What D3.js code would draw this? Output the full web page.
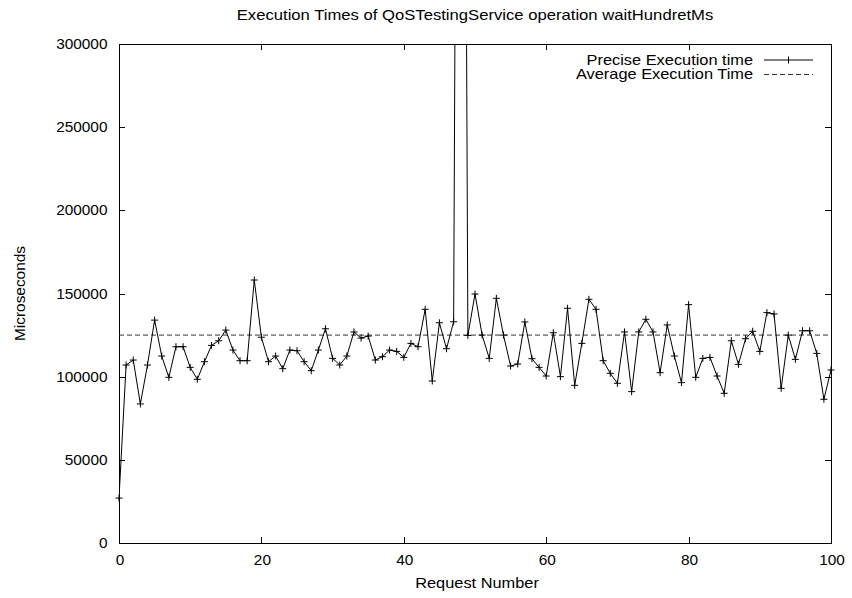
<!DOCTYPE html>
<html>
<head>
<meta charset="utf-8">
<script src="https://cdn.jsdelivr.net/npm/d3@7"></script>
<style>
  html, body { margin: 0; padding: 0; background: #fff; }
  svg { display: block; }
  text { font-family: "Liberation Sans", Arial, Helvetica, sans-serif; fill: #000; }
</style>
</head>
<body>
<svg id="chart" width="852" height="598"></svg>
<script>
// ---- data ----
const title = "Execution Times of QoSTestingService operation waitHundretMs";
const xLabel = "Request Number";
const yLabel = "Microseconds";
const seriesNames = ["Precise Execution time", "Average Execution Time"];
const requestNumbers = d3.range(0, 101);
const executionTimes = [
  27000, 107000, 110000, 83600, 107000, 134000, 112400, 99600, 118000, 118000,
  105600, 98400, 109000, 118800, 121600, 128000, 116000, 109600, 109600, 158100,
  123700, 109000, 112400, 104800, 116000, 115600, 109000, 103600, 116000, 128800,
  111000, 107000, 112400, 126900, 123200, 124400, 110000, 112000, 116000, 115200,
  111600, 120000, 118000, 140500, 97400, 132400, 116800, 133000, 1080000, 124800,
  149700, 125000, 111000, 147100, 125000, 106400, 107600, 132900, 110800, 105600,
  100400, 126400, 100000, 141100, 94800, 120000, 146500, 140500, 109600, 102000,
  96000, 126900, 91000, 126900, 134500, 126900, 102400, 131100, 112400, 96400,
  143300, 99600, 111000, 111600, 100400, 90000, 121600, 107400, 122800, 127300,
  115200, 138500, 137700, 93000, 125000, 110400, 127600, 127600, 114000, 86400,
  104000
];
const averageTime = 125000;
const xTicks = [0, 20, 40, 60, 80, 100];
const yTicks = [0, 50000, 100000, 150000, 200000, 250000, 300000];

// ---- layout ----
const M = { left: 119, right: 831, top: 44, bottom: 543 };
const FS = 14, TICK = 6, MK = 3.5;

const svg = d3.select("#chart");
const x = d3.scaleLinear().domain([0, 100]).range([M.left, M.right]);
const y = d3.scaleLinear().domain([0, 300000]).range([M.bottom, M.top]);

function label(g, px, py, s, anchor, sx, rot) {
  g.append("text")
    .attr("transform", `translate(${px},${py})${rot ? " rotate(" + rot + ")" : ""} scale(${sx},1)`)
    .attr("text-anchor", anchor)
    .style("font-size", FS + "px")
    .text(s);
}

svg.append("defs").append("clipPath").attr("id", "plotclip")
  .append("rect").attr("x", M.left).attr("y", M.top)
  .attr("width", M.right - M.left).attr("height", M.bottom - M.top);

// ticks (inward, mirrored)
const tg = svg.append("g").attr("stroke", "#000").attr("stroke-width", 1);
xTicks.forEach(t => {
  const px = Math.round(x(t)) + 0.5;
  tg.append("line").attr("x1", px).attr("x2", px).attr("y1", M.bottom).attr("y2", M.bottom - TICK);
  tg.append("line").attr("x1", px).attr("x2", px).attr("y1", M.top).attr("y2", M.top + TICK);
  label(svg, x(t) + 1, M.bottom + 22, String(t), "middle", 1.1);
});
yTicks.forEach(t => {
  const py = Math.round(y(t)) + 0.5;
  tg.append("line").attr("x1", M.left).attr("x2", M.left + TICK).attr("y1", py).attr("y2", py);
  tg.append("line").attr("x1", M.right).attr("x2", M.right - TICK).attr("y1", py).attr("y2", py);
  label(svg, M.left - 11.5, y(t) + 5, String(t), "end", 1.1);
});

// frame
svg.append("rect")
  .attr("x", M.left + 0.5).attr("y", M.top + 0.5)
  .attr("width", M.right - M.left).attr("height", M.bottom - M.top)
  .attr("fill", "none").attr("stroke", "#000").attr("stroke-width", 1);

// average line
svg.append("line")
  .attr("x1", M.left).attr("x2", M.right)
  .attr("y1", y(averageTime)).attr("y2", y(averageTime))
  .attr("stroke", "#333").attr("stroke-width", 1).attr("stroke-dasharray", "5,3");

// data line
const pts = requestNumbers.map((r, i) => [r, executionTimes[i]]);
svg.append("path")
  .attr("clip-path", "url(#plotclip)")
  .attr("d", d3.line().x(d => x(d[0])).y(d => y(d[1]))(pts))
  .attr("fill", "none").attr("stroke", "#000").attr("stroke-width", 1);

// + markers
const mg = svg.append("g").attr("stroke", "#000").attr("stroke-width", 1);
pts.filter(d => d[1] <= 300000).forEach(d => {
  const px = x(d[0]), py = y(d[1]);
  mg.append("line").attr("x1", px - MK).attr("x2", px + MK).attr("y1", py).attr("y2", py);
  mg.append("line").attr("x1", px).attr("x2", px).attr("y1", py - MK).attr("y2", py + MK);
});

// legend
const lx1 = 764, lx2 = 813;
label(svg, 753, 64.5, seriesNames[0], "end", 1.17);
label(svg, 753, 79, seriesNames[1], "end", 1.17);
svg.append("line").attr("x1", lx1).attr("x2", lx2).attr("y1", 60).attr("y2", 60)
  .attr("stroke", "#000");
svg.append("line").attr("x1", (lx1 + lx2) / 2).attr("x2", (lx1 + lx2) / 2)
  .attr("y1", 60 - MK).attr("y2", 60 + MK).attr("stroke", "#000");
svg.append("line").attr("x1", lx1).attr("x2", lx2).attr("y1", 74.5).attr("y2", 74.5)
  .attr("stroke", "#333").attr("stroke-dasharray", "5,3");

// titles
label(svg, (M.left + M.right) / 2, 20, title, "middle", 1.19);
label(svg, (M.left + M.right) / 2 + 2, 588, xLabel, "middle", 1.17);
label(svg, 25, (M.top + M.bottom) / 2, yLabel, "middle", 1.1, -90);
</script>
</body>
</html>
